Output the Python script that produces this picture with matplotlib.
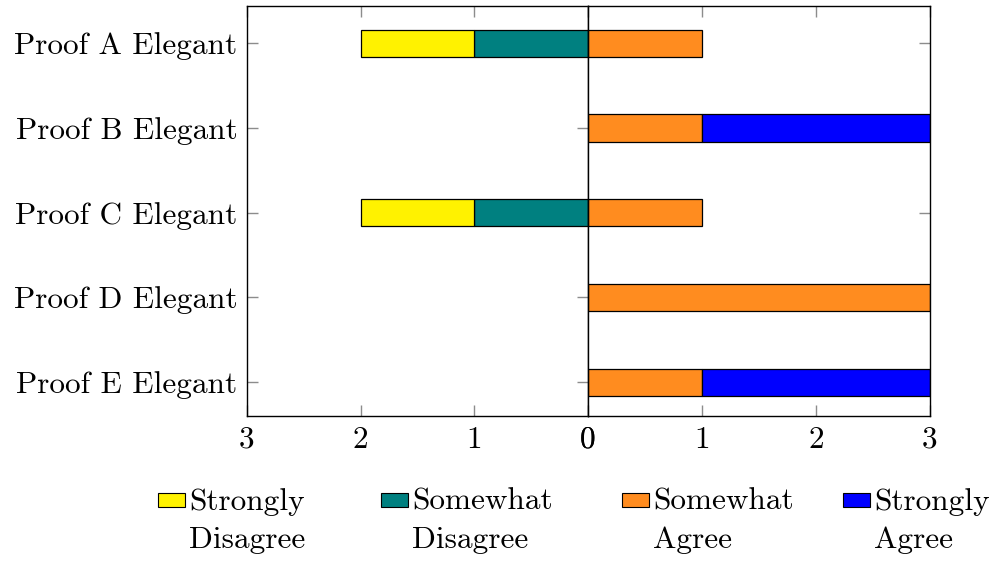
import matplotlib.pyplot as plt
from matplotlib.patches import Rectangle

plt.rcParams['font.family'] = 'cmr10'
plt.rcParams['axes.formatter.use_mathtext'] = True

categories = ["Proof A Elegant", "Proof B Elegant", "Proof C Elegant",
              "Proof D Elegant", "Proof E Elegant"]
strongly_disagree = [1, 0, 1, 0, 0]
somewhat_disagree = [1, 0, 1, 0, 0]
somewhat_agree = [1, 1, 1, 3, 1]
strongly_agree = [0, 2, 0, 0, 2]

legend_labels = ["Strongly\nDisagree", "Somewhat\nDisagree", "Somewhat\nAgree", "Strongly\nAgree"]
colors = ["#FFF200", "#008080", "#FF8C1F", "#0000FF"]
ticks = [0, 1, 2, 3]
FS = 22.5


def draw_bars(ax, values, lefts, color):
    for i, (v, l) in enumerate(zip(values, lefts)):
        if v > 0:
            ax.barh(i, v, left=l, height=0.32, color=color,
                    edgecolor='black', linewidth=0.9, zorder=2)


fig = plt.figure(figsize=(9.94, 5.61), dpi=100)
ax_l = fig.add_axes([247 / 994, 145 / 561, 341 / 994, 410 / 561])
ax_r = fig.add_axes([588 / 994, 145 / 561, 342 / 994, 410 / 561])

# negative side: drawn on its own axis, x reversed
draw_bars(ax_l, somewhat_disagree, [0] * 5, colors[1])
draw_bars(ax_l, strongly_disagree, somewhat_disagree, colors[0])
# positive side
draw_bars(ax_r, somewhat_agree, [0] * 5, colors[2])
draw_bars(ax_r, strongly_agree, somewhat_agree, colors[3])

ax_l.set_xlim(3, 0)
ax_r.set_xlim(0, 3)

for ax in (ax_l, ax_r):
    ax.set_ylim(4.40, -0.44)
    ax.set_xticks(ticks)
    ax.set_xticklabels([str(t) for t in ticks])
    ax.set_yticks(range(len(categories)))
    ax.set_axisbelow(True)
    ax.tick_params(direction='in', color='#8c8c8c', length=8, width=1,
                   top=True, right=True, left=True, bottom=True,
                   labelsize=FS, pad=7)
    for s in ax.spines.values():
        s.set_linewidth(1.0)
        s.set_zorder(3)

ax_l.set_yticklabels(categories)
ax_r.set_yticklabels([])

# legend, drawn by hand so the box sits on the first line
marker_x = [158, 381, 622, 843]
for lab, col, mx in zip(legend_labels, colors, marker_x):
    fig.patches.append(Rectangle((mx / 994, (561 - 507) / 561), 27 / 994, 14 / 561,
                                 transform=fig.transFigure, facecolor=col,
                                 edgecolor='black', linewidth=0.8))
    lines = lab.split("\n")
    fig.text((mx + 31) / 994, (561 - 510) / 561, lines[0], fontsize=FS, va='baseline')
    fig.text((mx + 31) / 994, (561 - 548) / 561, lines[1], fontsize=FS, va='baseline')

fig.savefig("out.png", dpi=100)
